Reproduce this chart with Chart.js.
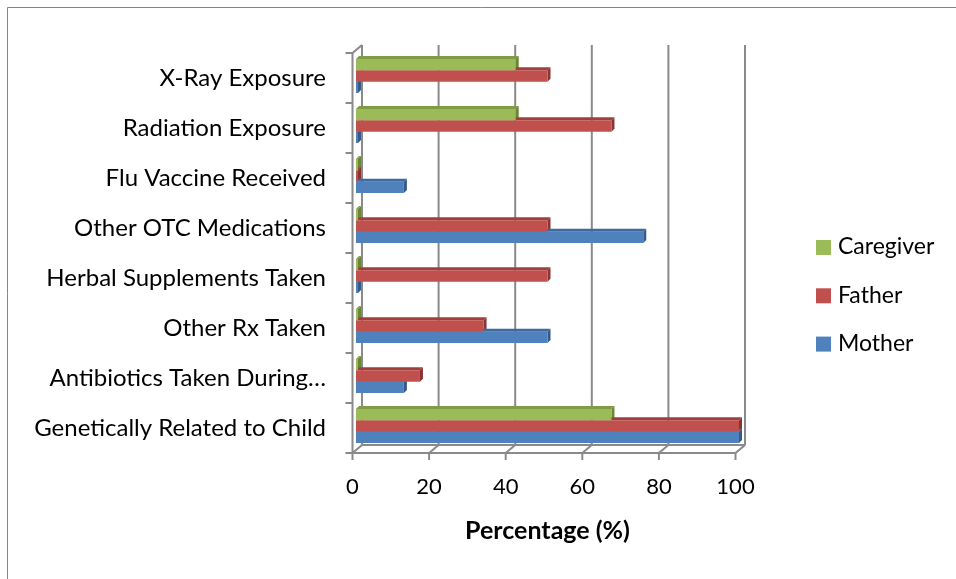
<!DOCTYPE html>
<html>
<head>
<meta charset="utf-8">
<script src="https://cdn.jsdelivr.net/npm/chart.js@4.4.0/dist/chart.umd.min.js"></script>
<style>
  html, body { margin: 0; padding: 0; background: #fff; }
  #wrap { position: relative; width: 956px; height: 579px; }
</style>
</head>
<body>
<div id="wrap"><canvas id="chart" width="956" height="579"></canvas></div>
<script>
// data (percent)
const categories = [
  'X-Ray Exposure',
  'Radiation Exposure',
  'Flu Vaccine Received',
  'Other OTC Medications',
  'Herbal Supplements Taken',
  'Other Rx Taken',
  'Antibiotics Taken During…',
  'Genetically Related to Child'
];
const seriesNames = ['Caregiver', 'Father', 'Mother'];
const caregiverValues = [41.7, 41.7, 0, 0, 0, 0, 0, 66.7];
const fatherValues    = [50, 66.7, 0, 50, 50, 33.3, 16.7, 100];
const motherValues    = [0, 0, 12.5, 75, 0, 50, 12.5, 100];
const xTicks = [0, 20, 40, 60, 80, 100];

const FONT = 'Lato, "Liberation Sans", sans-serif';
const frontColors = ['#9BBB59', '#C0504D', '#4F81BD'];
const topColors   = ['#7f9c45', '#a0403d', '#3f6a9e'];
const sideColors  = ['#6b8736', '#8a3432', '#335a8a'];
const gridColor = '#8a8a8a';

// outer frame of the picture (only top and left edges are visible)
const outerBorder = {
  id: 'outerBorder',
  beforeDraw(chart) {
    const ctx = chart.ctx;
    ctx.save();
    ctx.strokeStyle = '#858585';
    ctx.lineWidth = 1;
    ctx.beginPath();
    ctx.moveTo(956, 7.5);
    ctx.lineTo(7.5, 7.5);
    ctx.lineTo(7.5, 579);
    ctx.stroke();
    ctx.restore();
  }
};

function seg(ctx, x1, y1, x2, y2) {
  ctx.beginPath();
  ctx.moveTo(x1, y1);
  ctx.lineTo(x2, y2);
  ctx.stroke();
}

// fake excel 3d walls + bar depth faces
const frame3d = {
  id: 'frame3d',
  beforeDatasetsDraw(chart) {
    const { ctx, chartArea: a, scales: { x } } = chart;
    const n = categories.length;
    const band = (a.bottom - a.top) / n;
    const fx = -3.5, fy = 2, bx = 6, by = -6;
    const x0 = x.getPixelForValue(0);
    const x100 = x.getPixelForValue(100);

    ctx.save();
    ctx.strokeStyle = gridColor;
    ctx.lineWidth = 2;
    // back wall
    xTicks.forEach(v => {
      const px = x.getPixelForValue(v);
      seg(ctx, px + bx, a.top + by, px + bx, a.bottom + by);
    });
    // floor
    seg(ctx, x0 + bx, a.bottom + by, x100 + bx, a.bottom + by);
    seg(ctx, x0 + fx, a.bottom + fy, x100 + fx, a.bottom + fy);
    xTicks.forEach(v => {
      const px = x.getPixelForValue(v);
      seg(ctx, px + fx, a.bottom + fy, px + bx, a.bottom + by);
      seg(ctx, px + fx, a.bottom + fy, px + fx, a.bottom + fy + 7);
    });
    // left wall
    seg(ctx, x0 + fx, a.top + fy, x0 + fx, a.bottom + fy);
    seg(ctx, x0 + fx, a.top + fy, x0 + bx, a.top + by);
    for (let k = 0; k <= n; k++) {
      const py = a.top + k * band + fy;
      seg(ctx, x0 + fx - 7, py, x0 + fx, py);
    }
    ctx.restore();

    // depth faces, drawn before the front faces so the bars cover them
    const d = 3;
    ctx.save();
    chart.data.datasets.forEach((ds, i) => {
      chart.getDatasetMeta(i).data.forEach(bar => {
        const top = bar.y - bar.height / 2;
        const bot = bar.y + bar.height / 2;
        ctx.fillStyle = topColors[i];
        ctx.beginPath();
        ctx.moveTo(bar.base, top);
        ctx.lineTo(bar.x, top);
        ctx.lineTo(bar.x + d, top - d);
        ctx.lineTo(bar.base + d, top - d);
        ctx.closePath();
        ctx.fill();
        ctx.fillStyle = sideColors[i];
        ctx.beginPath();
        ctx.moveTo(bar.x, top);
        ctx.lineTo(bar.x + d, top - d);
        ctx.lineTo(bar.x + d, bot - d);
        ctx.lineTo(bar.x, bot);
        ctx.closePath();
        ctx.fill();
      });
    });
    ctx.restore();
  }
};

const sideLegend = {
  id: 'sideLegend',
  afterDraw(chart) {
    const ctx = chart.ctx;
    ctx.save();
    ctx.font = '23px ' + FONT;
    ctx.textBaseline = 'middle';
    ctx.textAlign = 'left';
    chart.data.datasets.forEach((ds, i) => {
      const cy = 247 + i * 48.3;
      ctx.fillStyle = ds.backgroundColor;
      ctx.fillRect(816, cy - 7, 15, 15);
      ctx.fillStyle = '#000';
      ctx.fillText(ds.label, 838, cy);
    });
    ctx.restore();
  }
};

const ctx = document.getElementById('chart').getContext('2d');
new Chart(ctx, {
  type: 'bar',
  data: {
    labels: categories,
    datasets: [
      { label: seriesNames[0], data: caregiverValues, backgroundColor: frontColors[0] },
      { label: seriesNames[1], data: fatherValues, backgroundColor: frontColors[1] },
      { label: seriesNames[2], data: motherValues, backgroundColor: frontColors[2] }
    ]
  },
  options: {
    indexAxis: 'y',
    responsive: false,
    animation: false,
    devicePixelRatio: 1,
    layout: { padding: { left: 10, top: 51, right: 217, bottom: 33 } },
    datasets: {
      bar: { categoryPercentage: 0.68, barPercentage: 1.0, minBarLength: 2, borderWidth: 0 }
    },
    scales: {
      x: {
        min: 0,
        max: 100,
        grid: { display: false, drawTicks: false },
        border: { display: false },
        ticks: {
          stepSize: 20,
          padding: 23,
          labelOffset: -3.5,
          color: '#000',
          font: { family: FONT, size: 22 }
        },
        title: {
          display: true,
          text: 'Percentage (%)',
          color: '#000',
          padding: 0,
          font: { family: FONT, size: 25, weight: 'bold' }
        },
        afterFit(s) { s.height = 95; }
      },
      y: {
        grid: { display: false, drawTicks: false },
        border: { display: false },
        ticks: {
          padding: 30,
          labelOffset: 2,
          autoSkip: false,
          color: '#000',
          font: { family: FONT, size: 24 }
        },
        afterFit(s) { s.width = 346; }
      }
    },
    plugins: {
      legend: { display: false },
      tooltip: { enabled: false }
    }
  },
  plugins: [outerBorder, frame3d, sideLegend]
});
</script>
</body>
</html>
